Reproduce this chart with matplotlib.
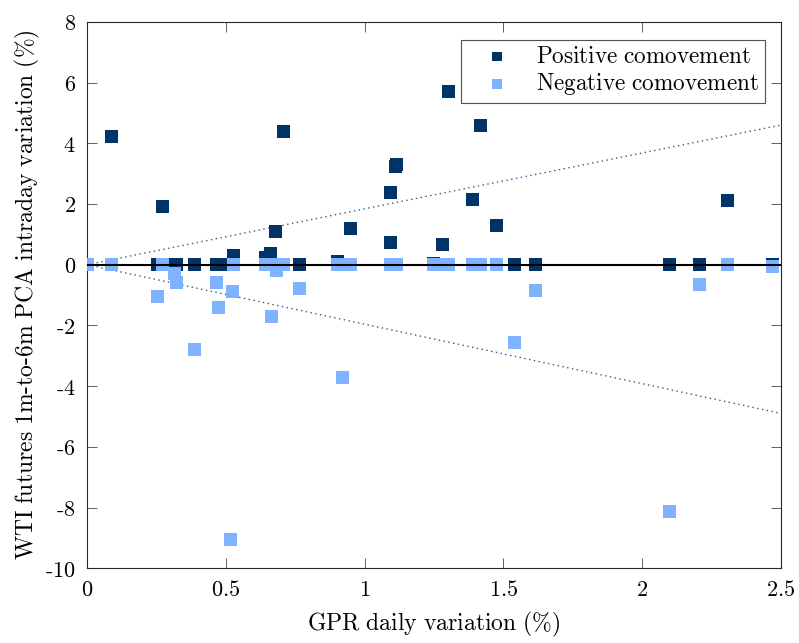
import matplotlib
matplotlib.use("Agg")
import matplotlib.pyplot as plt
import numpy as np

plt.rcParams['mathtext.fontset'] = 'cm'
plt.rcParams['font.family'] = ['DejaVu Serif']

# GPR daily variation (%) for each day
gpr = [0.000, 0.087, 0.253, 0.271, 0.315, 0.322, 0.387, 0.466, 0.474, 0.516,
       0.523, 0.527, 0.642, 0.660, 0.665, 0.678, 0.682, 0.707, 0.764, 0.902,
       0.919, 0.948, 1.093, 1.094, 1.110, 1.115, 1.247, 1.280, 1.302, 1.388,
       1.417, 1.474, 1.539, 1.614, 2.098, 2.206, 2.307, 2.469]
# Positive comovement (intraday variation, %), zero when comovement is negative
pos = [0.00, 4.23, 0.00, 1.92, 0.00, 0.00, 0.00, 0.00, 0.00, 0.00,
       0.00, 0.30, 0.24, 0.37, 0.00, 1.10, 0.00, 4.39, 0.00, 0.10,
       0.00, 1.19, 2.38, 0.73, 3.22, 3.30, 0.05, 0.67, 5.71, 2.15,
       4.59, 1.29, 0.00, 0.00, 0.00, 0.00, 2.12, 0.00]
# Negative comovement (intraday variation, %), zero when comovement is positive
neg = [0.00, 0.00, -1.04, 0.00, -0.29, -0.59, -2.79, -0.59, -1.40, -9.05,
       -0.88, 0.00, 0.00, 0.00, -1.70, 0.00, -0.19, 0.00, -0.78, 0.00,
       -3.71, 0.00, 0.00, 0.00, 0.00, 0.00, 0.00, 0.00, 0.00, 0.00,
       0.00, 0.00, -2.55, -0.85, -8.12, -0.65, 0.00, -0.06]
# Dotted bound lines (slopes)
upper_slope = 1.84
lower_slope = -1.96

xticks = [0, 0.5, 1, 1.5, 2, 2.5]
xticklabels = ['0', '0.5', '1', '1.5', '2', '2.5']
yticks = [-10, -8, -6, -4, -2, 0, 2, 4, 6, 8]
yticklabels = ['-10', '-8', '-6', '-4', '-2', '0', '2', '4', '6', '8']

dark = (0/255, 51/255, 102/255)
light = (128/255, 179/255, 255/255)


def cm(s):
    s = s.replace('%', r'\%').replace(' ', r'\ ').replace('-', r'\text{-}')
    return r'$\mathrm{' + s + '}$'


fig = plt.figure(figsize=(7.99, 6.43), dpi=100)
ax = fig.add_axes([0.1089, 0.1163, 0.9775 - 0.1089, 0.966 - 0.1163])

xs = np.array([0, 2.5])
ax.plot(xs, upper_slope * xs, linestyle=(0, (1, 2.5)), color=(0.2, 0.35, 0.55), lw=1.0, zorder=1)
ax.plot(xs, lower_slope * xs, linestyle=(0, (1, 2.5)), color=(0.2, 0.35, 0.55), lw=1.0, zorder=1)

ax.scatter(gpr, pos, marker='s', s=88, color=dark, edgecolors='none', zorder=2,
           label='Positive comovement')
ax.scatter(gpr, neg, marker='s', s=88, color=light, edgecolors='none', zorder=3,
           label='Negative comovement')
ax.axhline(0, color='black', lw=1.5, zorder=4)

ax.set_xlim(0, 2.5)
ax.set_ylim(-10, 8)
ax.set_xticks(xticks)
ax.set_yticks(yticks)
ax.set_xticklabels([cm(t) for t in xticklabels])
ax.set_yticklabels([cm(t) for t in yticklabels])
ax.tick_params(direction='in', length=7, width=0.6, color='#444444', labelsize=16,
               top=True, right=True, pad=8)
for sp in ax.spines.values():
    sp.set_linewidth(0.8)
    sp.set_color('#262626')

ax.set_xlabel(cm('GPR daily variation (%)'), fontsize=17, labelpad=6)
ax.set_ylabel(cm('WTI futures 1m-to-6m PCA intraday variation (%)'), fontsize=17, labelpad=2)

leg = ax.legend(loc='upper right', bbox_to_anchor=(0.977, 0.967), borderaxespad=0,
                frameon=True, fancybox=False, edgecolor='#262626', markerscale=0.75,
                handlelength=2.6, handletextpad=0.4,
                borderpad=0.25, labelspacing=0.15, prop={'family': 'DejaVu Serif', 'size': 16.7})
leg.get_frame().set_linewidth(0.8)
for t in leg.get_texts():
    t.set_text(cm(t.get_text()))

fig.savefig('out.png', dpi=100, facecolor='white')
